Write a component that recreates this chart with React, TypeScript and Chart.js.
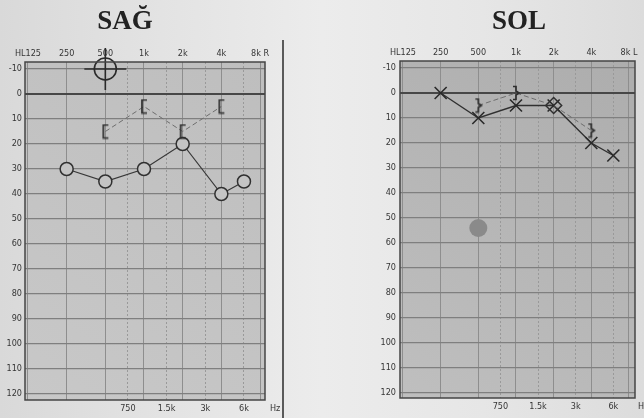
import React, { useEffect, useRef } from "react";
import { Chart, registerables } from "chart.js";
Chart.register(...registerables);

// ---- axis data ----
const octaveFreqs = [125, 250, 500, 1000, 2000, 4000, 8000];
const octaveLabelsRight = ["HL125", "250", "500", "1k", "2k", "4k", "8k R"];
const octaveLabelsLeft = ["HL125", "250", "500", "1k", "2k", "4k", "8k L"];
const midFreqs = [750, 1500, 3000, 6000];
const midLabels = ["750", "1.5k", "3k", "6k"];
const dbTicks = [-10, 0, 10, 20, 30, 40, 50, 60, 70, 80, 90, 100, 110, 120];

// ---- SAĞ (right ear) ----
const sagAirFreqs = [250, 500, 1000, 2000, 4000, 6000];
const sagAirDb = [30, 35, 30, 20, 40, 35];
const sagBoneFreqs = [500, 1000, 2000, 4000];
const sagBoneDb = [15, 5, 15, 5];
const sagCursorFreqs = [500];
const sagCursorDb = [-10];

// ---- SOL (left ear) ----
const solAirFreqs = [250, 500, 1000, 2000, 4000, 6000];
const solAirDb = [0, 10, 5, 5, 20, 25];
const solBoneFreqs = [500, 1000, 2000, 4000];
const solBoneDb = [5, 0, 5, 15];
const solBoneStyles = ["bracket", "bracket", "diamond", "bracket"];
const solMarkFreqs = [500];
const solMarkDb = [54];

const TICK_FONT = { family: '"Liberation Sans Narrow", "DejaVu Sans Condensed", Arial, sans-serif', size: 9 };
const TICK_COLOR = "#353535";

function pts(xs: number[], ys: number[]) {
  return xs.map((x, i) => ({ x, y: ys[i] }));
}

function bracketCanvas(dir: "open-right" | "open-left", color: string) {
  const c = document.createElement("canvas");
  c.width = 10;
  c.height = 16;
  const ctx = c.getContext("2d")!;
  ctx.strokeStyle = color;
  ctx.lineWidth = 1.7;
  ctx.beginPath();
  if (dir === "open-right") {
    ctx.moveTo(8, 1.5);
    ctx.lineTo(3, 1.5);
    ctx.lineTo(3, 14.5);
    ctx.lineTo(8, 14.5);
  } else {
    ctx.moveTo(2, 1.5);
    ctx.lineTo(5, 1.5);
    ctx.lineTo(5, 6);
    ctx.lineTo(8, 8);
    ctx.lineTo(5, 10);
    ctx.lineTo(5, 14.5);
    ctx.lineTo(2, 14.5);
  }
  ctx.stroke();
  return c;
}

type Geo = {
  xMin: number;
  xMax: number;
  yMin: number;
  yMax: number;
  yWidth: number;
  topH: number;
  bottomH: number;
  padRight: number;
  octaveLabels: string[];
  plotColors: [string, string];
  yPad: number;
};

function makeConfig(geo: Geo, datasets: any[]) {
  const bgPlugin = {
    id: "plotbg",
    beforeDraw(chart: any) {
      const { ctx, chartArea: a } = chart;
      const g = ctx.createLinearGradient(a.left, a.bottom, a.right, a.top);
      g.addColorStop(0, geo.plotColors[0]);
      g.addColorStop(1, geo.plotColors[1]);
      ctx.save();
      ctx.fillStyle = g;
      ctx.fillRect(a.left, a.top, a.right - a.left, a.bottom - a.top);
      ctx.restore();
    },
    afterDraw(chart: any) {
      const { ctx, chartArea: a } = chart;
      ctx.save();
      ctx.strokeStyle = "#454545";
      ctx.lineWidth = 1.5;
      ctx.strokeRect(a.left, a.top, a.right - a.left, a.bottom - a.top);
      ctx.restore();
    },
  };
  return {
    type: "line",
    data: { datasets },
    plugins: [bgPlugin],
    options: {
      animation: false,
      responsive: false,
      maintainAspectRatio: false,
      layout: { autoPadding: false, padding: { left: 0, right: geo.padRight, top: 0, bottom: 0 } },
      plugins: { legend: { display: false }, tooltip: { enabled: false }, title: { display: false } },
      elements: { line: { tension: 0 } },
      scales: {
        x: {
          type: "logarithmic",
          position: "top",
          min: geo.xMin,
          max: geo.xMax,
          afterBuildTicks: (s: any) => {
            s.ticks = octaveFreqs.map((v) => ({ value: v }));
          },
          afterFit: (s: any) => {
            s.height = geo.topH;
          },
          ticks: {
            autoSkip: false,
            maxRotation: 0,
            padding: 3,
            font: TICK_FONT,
            color: TICK_COLOR,
            callback: (_v: any, i: number) => geo.octaveLabels[i],
          },
          grid: { color: "#8e8e8e", lineWidth: 1, drawTicks: false },
          border: { display: false },
        },
        x2: {
          type: "logarithmic",
          position: "bottom",
          min: geo.xMin,
          max: geo.xMax,
          afterBuildTicks: (s: any) => {
            s.ticks = midFreqs.map((v) => ({ value: v }));
          },
          afterFit: (s: any) => {
            s.height = geo.bottomH;
          },
          ticks: {
            autoSkip: false,
            maxRotation: 0,
            padding: 3,
            font: TICK_FONT,
            color: TICK_COLOR,
            callback: (_v: any, i: number) => midLabels[i],
          },
          grid: { color: "#999999", lineWidth: 1, drawTicks: false },
          border: { display: false, dash: [2, 2] },
        },
        y: {
          type: "linear",
          reverse: true,
          min: geo.yMin,
          max: geo.yMax,
          afterBuildTicks: (s: any) => {
            s.ticks = dbTicks.map((v) => ({ value: v }));
          },
          afterFit: (s: any) => {
            s.width = geo.yWidth;
          },
          ticks: {
            padding: geo.yPad,
            font: TICK_FONT,
            color: TICK_COLOR,
            callback: (v: any) => String(v),
          },
          grid: {
            color: (c: any) => (c.tick && c.tick.value === 0 ? "#474747" : "#7f7f7f"),
            lineWidth: (c: any) => (c.tick && c.tick.value === 0 ? 2 : 1.3),
            drawTicks: false,
          },
          border: { display: false },
        },
      },
    },
  };
}

export default function App() {
  const leftRef = useRef<HTMLCanvasElement>(null);
  const rightRef = useRef<HTMLCanvasElement>(null);

  useEffect(() => {
    const sagBg = "#c4c4c4";
    const sagBracket = bracketCanvas("open-right", "#2e2e2e");
    const solBracket = bracketCanvas("open-left", "#2e2e2e");

    const sagDatasets = [
      {
        data: pts(sagBoneFreqs, sagBoneDb),
        borderColor: "#6e6e6e",
        borderWidth: 1,
        borderDash: [5, 3],
        pointStyle: sagBracket,
        pointRadius: 7,
      },
      {
        data: pts(sagAirFreqs, sagAirDb),
        borderColor: "#383838",
        borderWidth: 1.2,
        pointStyle: "circle",
        pointRadius: 6.5,
        pointBorderWidth: 1.5,
        pointBorderColor: "#303030",
        pointBackgroundColor: sagBg,
      },
      {
        data: pts(sagCursorFreqs, sagCursorDb),
        showLine: false,
        clip: false,
        pointStyle: "circle",
        pointRadius: 11,
        pointBorderWidth: 1.6,
        pointBorderColor: "#2a2a2a",
        pointBackgroundColor: "rgba(0,0,0,0)",
      },
      {
        data: pts(sagCursorFreqs, sagCursorDb),
        showLine: false,
        clip: false,
        pointStyle: "cross",
        pointRadius: 21,
        pointBorderWidth: 1.6,
        pointBorderColor: "#2a2a2a",
      },
    ];

    const solDatasets = [
      {
        data: pts(solMarkFreqs, solMarkDb),
        showLine: false,
        pointStyle: "circle",
        pointRadius: 9,
        pointBorderWidth: 0,
        pointBackgroundColor: "#8a8a8a",
      },
      {
        data: pts(solBoneFreqs, solBoneDb),
        borderColor: "#6e6e6e",
        borderWidth: 1,
        borderDash: [5, 3],
        pointStyle: solBoneStyles.map((s) => (s === "diamond" ? "rectRot" : solBracket)),
        pointRadius: solBoneStyles.map((s) => (s === "diamond" ? 8 : 7)),
        pointBorderWidth: 1.5,
        pointBorderColor: "#303030",
        pointBackgroundColor: "rgba(0,0,0,0)",
      },
      {
        data: pts(solAirFreqs, solAirDb),
        borderColor: "#303030",
        borderWidth: 1.4,
        pointStyle: "crossRot",
        pointRadius: 8.5,
        pointBorderWidth: 1.6,
        pointBorderColor: "#2a2a2a",
      },
    ];

    const geoL: Geo = {
      xMin: 118.5,
      xMax: 8747,
      yMin: -12.8,
      yMax: 122.4,
      yWidth: 25,
      topH: 62,
      bottomH: 18,
      padRight: 18,
      octaveLabels: octaveLabelsRight,
      plotColors: ["#c8c8c8", "#bebebe"],
      yPad: 3,
    };
    const geoR: Geo = {
      xMin: 118.3,
      xMax: 8938,
      yMin: -12.8,
      yMax: 122,
      yWidth: 117,
      topH: 61,
      bottomH: 20,
      padRight: 9,
      octaveLabels: octaveLabelsLeft,
      plotColors: ["#bfbfbf", "#adadad"],
      yPad: 4,
    };

    const left = new Chart(leftRef.current!, makeConfig(geoL, sagDatasets) as any);
    const right = new Chart(rightRef.current!, makeConfig(geoR, solDatasets) as any);
    return () => {
      left.destroy();
      right.destroy();
    };
  }, []);

  const titleStyle: React.CSSProperties = {
    position: "absolute",
    top: 7,
    width: 120,
    textAlign: "center",
    fontFamily: '"Liberation Serif", "DejaVu Serif", serif',
    fontWeight: "bold",
    fontSize: 27,
    lineHeight: "27px",
    color: "#222",
  };
  const smallStyle: React.CSSProperties = {
    position: "absolute",
    fontFamily: '"Liberation Sans Narrow", "DejaVu Sans Condensed", Arial, sans-serif',
    fontSize: 9,
    lineHeight: "10px",
    color: TICK_COLOR,
  };

  return (
    <div
      style={{
        position: "fixed",
        left: 0,
        top: 0,
        width: 644,
        height: 418,
        overflow: "hidden",
        background: "linear-gradient(90deg, #d9d9d9 0%, #e3e3e3 25%, #ececec 50%, #e6e6e6 75%, #dcdcdc 100%)",
      }}
    >
      <canvas ref={leftRef} width={283} height={418} style={{ position: "absolute", left: 0, top: 0 }} />
      <canvas ref={rightRef} width={361} height={418} style={{ position: "absolute", left: 283, top: 0 }} />
      <div style={{ ...titleStyle, left: 65 }}>SAĞ</div>
      <div style={{ ...titleStyle, left: 459 }}>SOL</div>
      <div style={{ ...smallStyle, left: 270, top: 403 }}>Hz</div>
      <div style={{ ...smallStyle, left: 638, top: 401 }}>Hz</div>
      <div style={{ position: "absolute", left: 282, top: 40, width: 1.5, height: 378, background: "#5a5a5a" }} />
    </div>
  );
}
